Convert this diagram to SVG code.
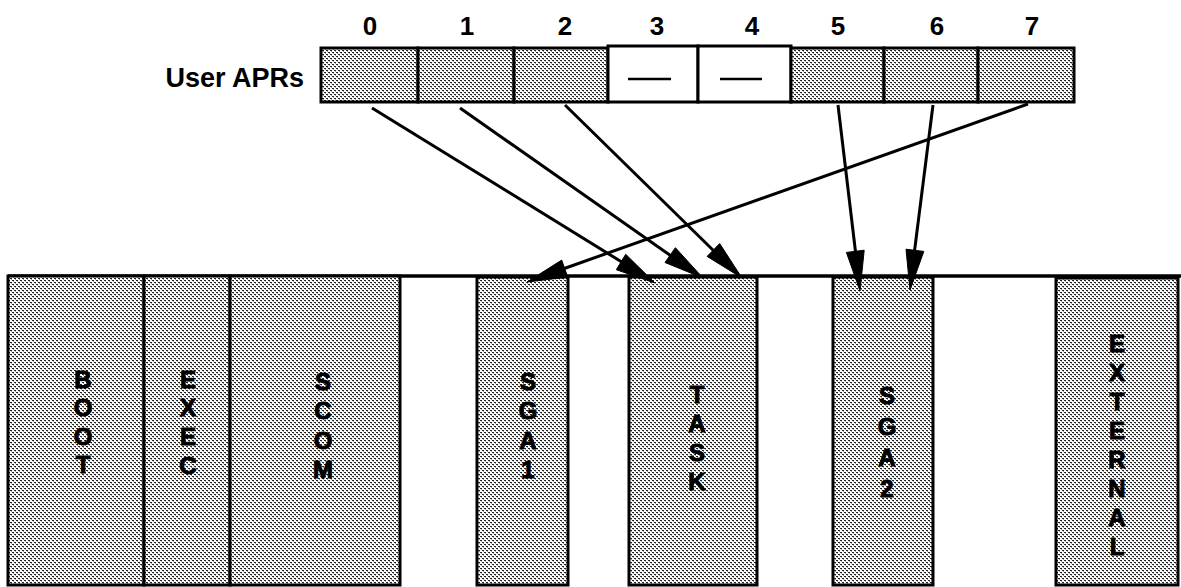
<svg xmlns="http://www.w3.org/2000/svg" width="1181" height="587" viewBox="0 0 1181 587">
<defs>
<pattern id="dots" width="4" height="4" patternUnits="userSpaceOnUse">
<rect width="4" height="4" fill="#ffffff"/>
<rect x="0" y="0" width="2" height="1" fill="#222"/>
<rect x="2" y="2" width="2" height="1" fill="#222"/>
<rect x="1" y="1" width="1" height="1" fill="#999"/>
<rect x="3" y="3" width="1" height="1" fill="#999"/>
</pattern>
<style>
.lbl{font-family:"Liberation Sans",Arial,Helvetica,sans-serif;font-weight:bold;fill:#000}
.num{font-size:26px;text-anchor:middle}
.vert{font-size:24px;text-anchor:middle;stroke:#000;stroke-width:1}
.apr{fill:url(#dots);stroke:#000;stroke-width:3}
.aprw{fill:#fff;stroke:#000;stroke-width:3}
.mem{fill:url(#dots);stroke:#000;stroke-width:3}
.conn{fill:none;stroke:#000;stroke-width:3}
.head{fill:#000;stroke:#000;stroke-width:1;stroke-linejoin:miter}
</style>
</defs>
<rect width="1181" height="587" fill="#fff"/>

<g id="apr-header">
<text class="lbl" x="304" y="87" font-size="27" text-anchor="end">User APRs</text>
<text class="lbl num" x="370" y="35">0</text>
<text class="lbl num" x="467" y="35">1</text>
<text class="lbl num" x="565" y="35">2</text>
<text class="lbl num" x="657" y="35">3</text>
<text class="lbl num" x="752" y="35">4</text>
<text class="lbl num" x="838" y="35">5</text>
<text class="lbl num" x="937" y="35">6</text>
<text class="lbl num" x="1032" y="35">7</text>
</g>

<g id="apr0"><rect class="apr" x="321" y="48" width="97" height="54"/></g>
<g id="apr1"><rect class="apr" x="418" y="48" width="96" height="54"/></g>
<g id="apr2"><rect class="apr" x="514" y="48" width="94" height="54"/></g>
<g id="apr3"><rect class="aprw" x="608" y="46" width="90" height="56"/><line x1="628" y1="79" x2="671" y2="79" stroke="#000" stroke-width="2.5"/></g>
<g id="apr4"><rect class="aprw" x="698" y="46" width="93" height="56"/><line x1="720" y1="79" x2="762" y2="79" stroke="#000" stroke-width="2.5"/></g>
<g id="apr5"><rect class="apr" x="791" y="48" width="93" height="54"/></g>
<g id="apr6"><rect class="apr" x="884" y="48" width="94" height="54"/></g>
<g id="apr7"><rect class="apr" x="978" y="48" width="96" height="54"/></g>

<g id="memory-top"><line x1="8" y1="276" x2="1181" y2="276" stroke="#000" stroke-width="3.5"/></g>

<g id="boot"><rect class="mem" x="8" y="276" width="136" height="309" stroke-width="4"/>
<text class="lbl vert"><tspan x="83" y="388">B</tspan><tspan x="83" y="416">O</tspan><tspan x="83" y="445">O</tspan><tspan x="83" y="473">T</tspan></text></g>
<g id="exec"><rect class="mem" x="144" y="276" width="86" height="309"/>
<text class="lbl vert"><tspan x="188" y="388">E</tspan><tspan x="188" y="416">X</tspan><tspan x="188" y="445">E</tspan><tspan x="188" y="474">C</tspan></text></g>
<g id="scom"><rect class="mem" x="230" y="276" width="170" height="309" stroke-width="3.5"/>
<text class="lbl vert"><tspan x="323" y="390">S</tspan><tspan x="323" y="419">C</tspan><tspan x="323" y="449">O</tspan><tspan x="323" y="478">M</tspan></text></g>
<g id="sga1"><rect class="mem" x="477" y="277" width="91" height="308"/>
<text class="lbl vert"><tspan x="528" y="390">S</tspan><tspan x="528" y="419">G</tspan><tspan x="528" y="449">A</tspan><tspan x="528" y="478">1</tspan></text></g>
<g id="task"><rect class="mem" x="629" y="277" width="128" height="308"/>
<text class="lbl vert"><tspan x="697" y="403">T</tspan><tspan x="697" y="432">A</tspan><tspan x="697" y="461">S</tspan><tspan x="697" y="490">K</tspan></text></g>
<g id="sga2"><rect class="mem" x="833" y="277" width="100" height="308"/>
<text class="lbl vert"><tspan x="887" y="404">S</tspan><tspan x="887" y="435">G</tspan><tspan x="887" y="466">A</tspan><tspan x="887" y="497">2</tspan></text></g>
<g id="external"><rect class="mem" x="1056" y="278" width="122" height="307"/>
<text class="lbl vert"><tspan x="1117" y="352">E</tspan><tspan x="1117" y="381">X</tspan><tspan x="1117" y="410">T</tspan><tspan x="1117" y="439">E</tspan><tspan x="1117" y="468">R</tspan><tspan x="1117" y="497">N</tspan><tspan x="1117" y="526">A</tspan><tspan x="1117" y="555">L</tspan></text></g>

<g id="connectors">
<path class="conn" d="M372,108 L625,264"/>
<polygon class="head" points="655,283 616.3,269.7 625.7,254.3"/>
<path class="conn" d="M460,108 L674,258"/>
<polygon class="head" points="703,278 665.0,262.5 675.4,247.7"/>
<path class="conn" d="M565,105 L717,254"/>
<polygon class="head" points="742,278 707.1,256.4 719.7,243.6"/>
<path class="conn" d="M838,105 L856,256"/>
<polygon class="head" points="860,291 846.4,252.4 864.2,250.2"/>
<path class="conn" d="M933,105 L914,255"/>
<polygon class="head" points="910,290 906.0,249.2 923.8,251.4"/>
<path class="conn" d="M1028,104 L560,270"/>
<polygon class="head" points="527,282 561.7,260.1 567.7,277.1"/>
</g>
</svg>
